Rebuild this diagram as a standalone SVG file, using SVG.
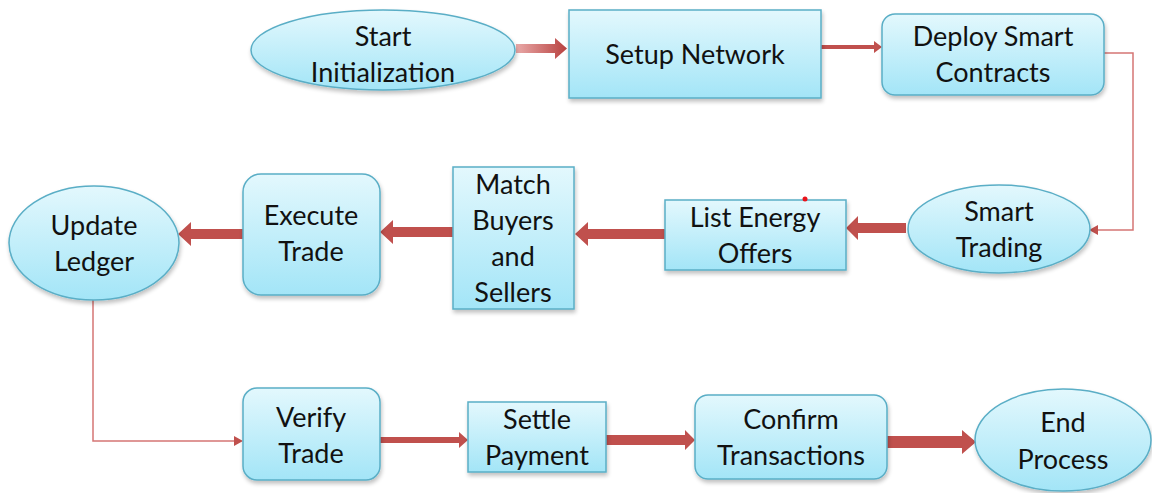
<svg xmlns="http://www.w3.org/2000/svg" width="1152" height="493" viewBox="0 0 1152 493">
  <defs>
    <linearGradient id="fillCyan" x1="0" y1="0" x2="0" y2="1">
      <stop offset="0" stop-color="#e3f8fd"/>
      <stop offset="1" stop-color="#a3e5f7"/>
    </linearGradient>
    <linearGradient id="fadeArrow" x1="0" y1="0" x2="1" y2="0">
      <stop offset="0" stop-color="#e9a9a8"/>
      <stop offset="1" stop-color="#b8413f"/>
    </linearGradient>
    <filter id="shadow" x="-10%" y="-10%" width="125%" height="130%">
      <feGaussianBlur in="SourceAlpha" stdDeviation="2"/>
      <feOffset dx="1" dy="3" result="b"/>
      <feComponentTransfer><feFuncA type="linear" slope="0.25"/></feComponentTransfer>
      <feMerge><feMergeNode/><feMergeNode in="SourceGraphic"/></feMerge>
    </filter>
  </defs>
  <style>
    .shape { fill: url(#fillCyan); stroke: #5aaec6; stroke-width: 1.5; filter: url(#shadow); }
    .label { font-family: Lato, "Open Sans", "Liberation Sans", sans-serif; font-size: 27px; fill: #111; text-anchor: middle; }
    .thin { fill: none; stroke: #d57574; stroke-width: 1.5; }
    .block { fill: #c0504d; }
  </style>

  <!-- connectors -->
  <g id="connectors">
    <!-- Start -> Setup Network (fading block arrow) -->
    <path d="M516,44 L555,44 L555,38 L567,48.5 L555,59 L555,53 L516,53 Z" fill="url(#fadeArrow)"/>
    <!-- Setup Network -> Deploy Smart Contracts -->
    <path class="block" d="M821,45 L874,45 L874,41 L882,47 L874,53 L874,49 L821,49 Z"/>
    <!-- Deploy Smart Contracts -> Smart Trading (elbow) -->
    <polyline class="thin" points="1104,53 1133,53 1133,230 1098,230"/>
    <path d="M1098,225 L1089,230 L1098,235 Z" fill="#c0504d"/>
    <!-- Smart Trading -> List Energy Offers -->
    <path class="block" d="M906,223 L858,223 L858,216 L846,228 L858,240 L858,233 L906,233 Z"/>
    <!-- List Energy Offers -> Match Buyers and Sellers -->
    <path class="block" d="M665,229 L588,229 L588,222 L575,234 L588,246 L588,239 L665,239 Z"/>
    <!-- Match Buyers and Sellers -> Execute Trade -->
    <path class="block" d="M453,227 L393,227 L393,220 L380,232 L393,244 L393,237 L453,237 Z"/>
    <!-- Execute Trade -> Update Ledger -->
    <path class="block" d="M243,229 L191,229 L191,222 L178,234 L191,246 L191,239 L243,239 Z"/>
    <!-- Update Ledger -> Verify Trade (elbow) -->
    <polyline class="thin" points="93,300 93,441 235,441"/>
    <path d="M234,436 L243,441 L234,446 Z" fill="#c0504d"/>
    <!-- Verify Trade -> Settle Payment -->
    <path class="block" d="M380,437 L459,437 L459,432 L468,440 L459,448 L459,443 L380,443 Z"/>
    <!-- Settle Payment -> Confirm Transactions -->
    <path class="block" d="M606,435 L685,435 L685,430 L695,440 L685,450 L685,445 L606,445 Z"/>
    <!-- Confirm Transactions -> End Process -->
    <path class="block" d="M887,436 L962,436 L962,430 L976,442 L962,454 L962,448 L887,448 Z"/>
  </g>

  <!-- nodes -->
  <g id="start-initialization">
    <ellipse class="shape" cx="383" cy="50" rx="132" ry="40"/>
    <text class="label" x="383" y="46">Start</text>
    <text class="label" x="383" y="82">Initialization</text>
  </g>

  <g id="setup-network">
    <rect class="shape" x="569" y="10" width="252" height="88"/>
    <text class="label" x="695" y="64">Setup Network</text>
  </g>

  <g id="deploy-smart-contracts">
    <rect class="shape" x="882" y="14" width="222" height="81" rx="13"/>
    <text class="label" x="993" y="46">Deploy Smart</text>
    <text class="label" x="993" y="82">Contracts</text>
  </g>

  <g id="smart-trading">
    <ellipse class="shape" cx="999" cy="229" rx="91" ry="44"/>
    <text class="label" x="999" y="221">Smart</text>
    <text class="label" x="999" y="257">Trading</text>
  </g>

  <g id="list-energy-offers">
    <rect class="shape" x="665" y="200" width="181" height="70"/>
    <text class="label" x="755" y="227">List Energy</text>
    <text class="label" x="755" y="263">Offers</text>
    <circle cx="805" cy="199" r="2.5" fill="#e8141b"/>
  </g>

  <g id="match-buyers-sellers">
    <rect class="shape" x="453" y="167" width="121" height="142"/>
    <text class="label" x="513" y="194">Match</text>
    <text class="label" x="513" y="230">Buyers</text>
    <text class="label" x="513" y="266">and</text>
    <text class="label" x="513" y="302">Sellers</text>
  </g>

  <g id="execute-trade">
    <rect class="shape" x="243" y="174" width="137" height="121" rx="18"/>
    <text class="label" x="311" y="225">Execute</text>
    <text class="label" x="311" y="261">Trade</text>
  </g>

  <g id="update-ledger">
    <ellipse class="shape" cx="94" cy="243" rx="85" ry="57"/>
    <text class="label" x="94" y="235">Update</text>
    <text class="label" x="94" y="271">Ledger</text>
  </g>

  <g id="verify-trade">
    <rect class="shape" x="243" y="388" width="137" height="92" rx="14"/>
    <text class="label" x="311" y="427">Verify</text>
    <text class="label" x="311" y="463">Trade</text>
  </g>

  <g id="settle-payment">
    <rect class="shape" x="468" y="402" width="138" height="70"/>
    <text class="label" x="537" y="429">Settle</text>
    <text class="label" x="537" y="465">Payment</text>
  </g>

  <g id="confirm-transactions">
    <rect class="shape" x="695" y="395" width="192" height="84" rx="13"/>
    <text class="label" x="791" y="429">Confirm</text>
    <text class="label" x="791" y="465">Transactions</text>
  </g>

  <g id="end-process">
    <ellipse class="shape" cx="1063" cy="440" rx="88" ry="51"/>
    <text class="label" x="1063" y="432">End</text>
    <text class="label" x="1063" y="469">Process</text>
  </g>
</svg>
